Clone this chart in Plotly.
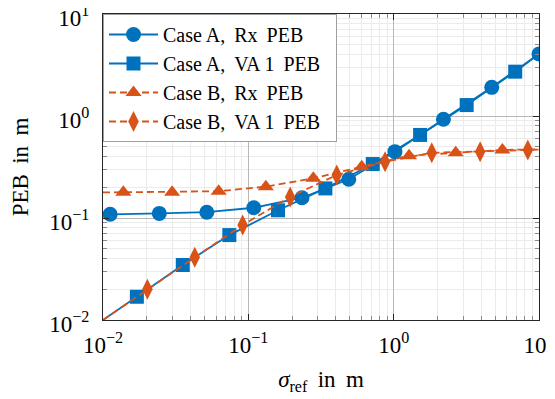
import plotly.graph_objects as go

# ---- data ----
# Case A, Rx PEB
a_rx_x = [0.0112, 0.0244, 0.0518, 0.109, 0.234, 0.491, 1.02, 2.20, 4.73, 10.0]
a_rx_y = [0.1087, 0.111, 0.114, 0.126, 0.158, 0.240, 0.447, 0.929, 1.91, 4.06]
a_rx_line_x = [0.01] + a_rx_x
a_rx_line_y = [0.108] + a_rx_y

# Case A, VA 1 PEB
a_va_x = [0.0171, 0.0354, 0.074, 0.160, 0.339, 0.718, 1.52, 3.18, 6.86]
a_va_y = [0.0169, 0.0346, 0.068, 0.119, 0.195, 0.338, 0.652, 1.28, 2.72]
a_va_line_x = [0.01] + a_va_x + [10.0]
a_va_line_y = [0.01] + a_va_y + [4.06]

# Case B, Rx PEB
b_rx_x = [0.0138, 0.0299, 0.0625, 0.132, 0.280, 0.603, 1.276, 2.673, 5.598]
b_rx_y = [0.179, 0.179, 0.183, 0.203, 0.245, 0.318, 0.408, 0.436, 0.465]
b_rx_line_x = [0.01] + b_rx_x + [10.0]
b_rx_line_y = [0.178] + b_rx_y + [0.472]

# Case B, VA 1 PEB
b_va_x = [0.0202, 0.0428, 0.0914, 0.194, 0.406, 0.873, 1.828, 3.936, 8.375]
b_va_y = [0.020, 0.0412, 0.0853, 0.161, 0.264, 0.356, 0.436, 0.447, 0.465]
b_va_line_x = [0.01] + b_va_x + [10.0]
b_va_line_y = [0.01] + b_va_y + [0.468]

SP = " \u2009"  # slightly wider word spacing, as in the reference typesetting
series_names = ["Case A," + SP + "Rx" + SP + "PEB", "Case A," + SP + "VA 1" + SP + "PEB",
                "Case B," + SP + "Rx" + SP + "PEB", "Case B," + SP + "VA 1" + SP + "PEB"]

tick_vals = [0.01, 0.1, 1, 10]
tick_text = ["10<sup>\u22122</sup>", "10<sup>\u22121</sup>", "10<sup>0</sup>", "10<sup>1</sup>"]

BLUE = "#0072BD"
ORANGE = "#D95319"
FONT = "Liberation Serif"

series = [
    (series_names[0], a_rx_x, a_rx_y, a_rx_line_x, a_rx_line_y, BLUE, "solid", "circle", 15),
    (series_names[1], a_va_x, a_va_y, a_va_line_x, a_va_line_y, BLUE, "solid", "square", 14),
    (series_names[2], b_rx_x, b_rx_y, b_rx_line_x, b_rx_line_y, ORANGE, "7px,4px", "triangle-up", 14),
    (series_names[3], b_va_x, b_va_y, b_va_line_x, b_va_line_y, ORANGE, "7px,4px", "diamond-tall", 15),
]

fig = go.Figure()
for name, mx, my, lx, ly, col, dash, sym, ms in series:
    fig.add_trace(go.Scatter(x=lx, y=ly, mode="lines", showlegend=False, hoverinfo="skip",
                             line=dict(color=col, width=1.8, dash=dash)))
    fig.add_trace(go.Scatter(x=mx, y=my, mode="markers", showlegend=False, name=name,
                             marker=dict(color=col, symbol=sym, size=ms, line=dict(width=0))))
    fig.add_trace(go.Scatter(x=[None], y=[None], mode="lines+markers", name=name + "\u2002",
                             line=dict(color=col, width=1.8, dash=dash),
                             marker=dict(color=col, symbol=sym, size=ms, line=dict(width=0))))

minor_vals = [k * 10.0 ** e for e in (-2, -1, 0) for k in range(2, 10)]

axis_common = dict(
    type="log", automargin=False, ticklabeloverflow="allow",
    tickmode="array", tickvals=tick_vals, ticktext=tick_text,
    showline=True, linecolor="#262626", linewidth=1, mirror="allticks",
    ticks="inside", ticklen=6, tickcolor="#262626",
    showgrid=True, gridcolor="#b8b8b8", gridwidth=1,
    zeroline=False,
    tickfont=dict(family=FONT, size=23, color="black"),
    minor=dict(tickvals=minor_vals, ticks="inside", ticklen=4, tickcolor="#8a8a8a",
               showgrid=True, gridcolor="#ebebeb", gridwidth=1),
)

# The page body has an 8px default margin, so the figure sits at (8, 8) in the window.
fig.update_layout(
    width=555, height=399,
    margin=dict(l=95, r=24, t=6, b=87),
    paper_bgcolor="white", plot_bgcolor="white",
    font=dict(family=FONT, color="black"),
    xaxis=dict(axis_common, range=[-2, 1], ticklabelstandoff=4,
               title=dict(text="<i>\u03c3</i><sub>ref</sub>" + SP + "in" + SP + "m",
                          font=dict(family=FONT, size=23), standoff=14)),
    yaxis=dict(axis_common, range=[-2, 1], ticklabelstandoff=8, ticklabelshift=4,
               title=dict(text="PEB" + SP + "in" + SP + "m", font=dict(family=FONT, size=23),
                          standoff=20)),
    legend=dict(x=0, y=1, xanchor="left", yanchor="top",
                bgcolor="white", bordercolor="#a0a0a0", borderwidth=1,
                font=dict(family=FONT, size=20, color="black"),
                tracegroupgap=0, itemwidth=49),
)

fig.write_html("out.html")
